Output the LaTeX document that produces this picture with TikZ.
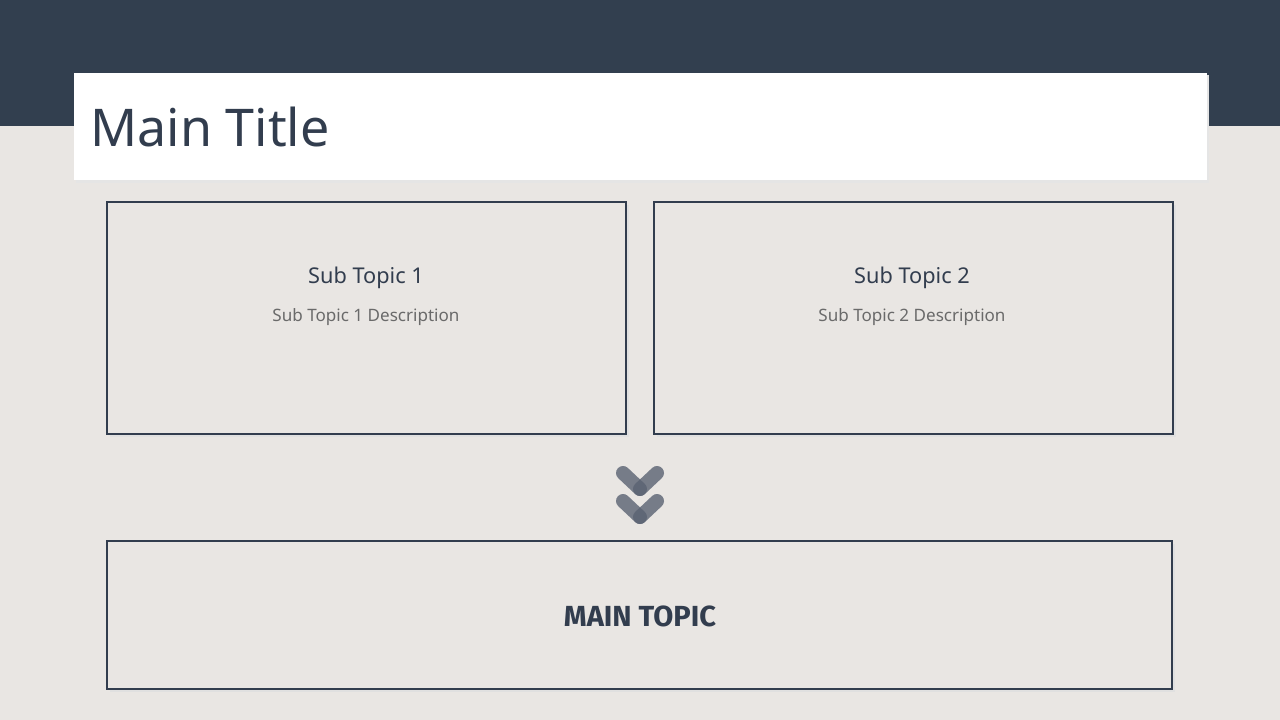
\documentclass[tikz,border=0pt]{standalone}
\usepackage{fontspec}
\setmainfont{Noto Sans}
\newfontfamily\headfont{Fira Sans}
\definecolor{bg}{HTML}{E9E6E3}
\definecolor{band}{HTML}{323F4F}
\definecolor{dark}{HTML}{323D4E}
\definecolor{descgray}{HTML}{6A6A6A}
\definecolor{chev}{HTML}{5A6272}
\tikzset{
  topicbox/.style={draw=dark, line width=2pt, fill=bg},
  shade/.style={fill=black!12, draw=none},
  chevarm/.style={draw=chev, line width=10.5pt, line cap=round, opacity=0.8},
  subtitle/.style={text=dark, font=\fontsize{16.3}{20}\selectfont},
  subdesc/.style={text=descgray, font=\fontsize{12.8}{16}\selectfont},
}
\begin{document}
\begin{tikzpicture}[x=0.75pt,y=-0.75pt]
\useasboundingbox (0,0) rectangle (1280,720);
\fill[bg] (0,0) rectangle (1280,720);
\fill[band] (0,0) rectangle (1280,126);
% title box
\fill[black!10] (76,75) rectangle (1209,183);
\fill[white] (74,73) rectangle (1207,180);
\node[anchor=base west, text=dark, font=\fontsize{39}{46}\selectfont, inner sep=0] (title) at (90,147) {Main Title};
% sub topic boxes
\fill[shade] (110,205) rectangle (629,437);
\draw[topicbox] (107,202) rectangle (626,434);
\fill[shade] (657,205) rectangle (1176,437);
\draw[topicbox] (654,202) rectangle (1173,434);
\node[subtitle] (s1t) at (366,278) {Sub Topic 1};
\node[subdesc] (s1d) at (366,317) {Sub Topic 1 Description};
\node[subtitle] (s2t) at (912,278) {Sub Topic 2};
\node[subdesc] (s2d) at (912,317) {Sub Topic 2 Description};
% chevrons
\coordinate (c1l) at (623,473);
\coordinate (c1v) at (640,489);
\coordinate (c1r) at (657,473);
\coordinate (c2l) at (623,501);
\coordinate (c2v) at (640,517);
\coordinate (c2r) at (657,501);
\draw[chevarm] (c1l) -- (c1v);
\draw[chevarm] (c1r) -- (c1v);
\draw[chevarm] (c2l) -- (c2v);
\draw[chevarm] (c2r) -- (c2v);
% main topic
\fill[shade] (110,544) rectangle (1175,692);
\draw[topicbox] (107,541) rectangle (1172,689);
\node[text=dark, font=\headfont\bfseries\fontsize{21.8}{26}\selectfont] (main) at (640,616) {MAIN TOPIC};
\end{tikzpicture}
\end{document}
